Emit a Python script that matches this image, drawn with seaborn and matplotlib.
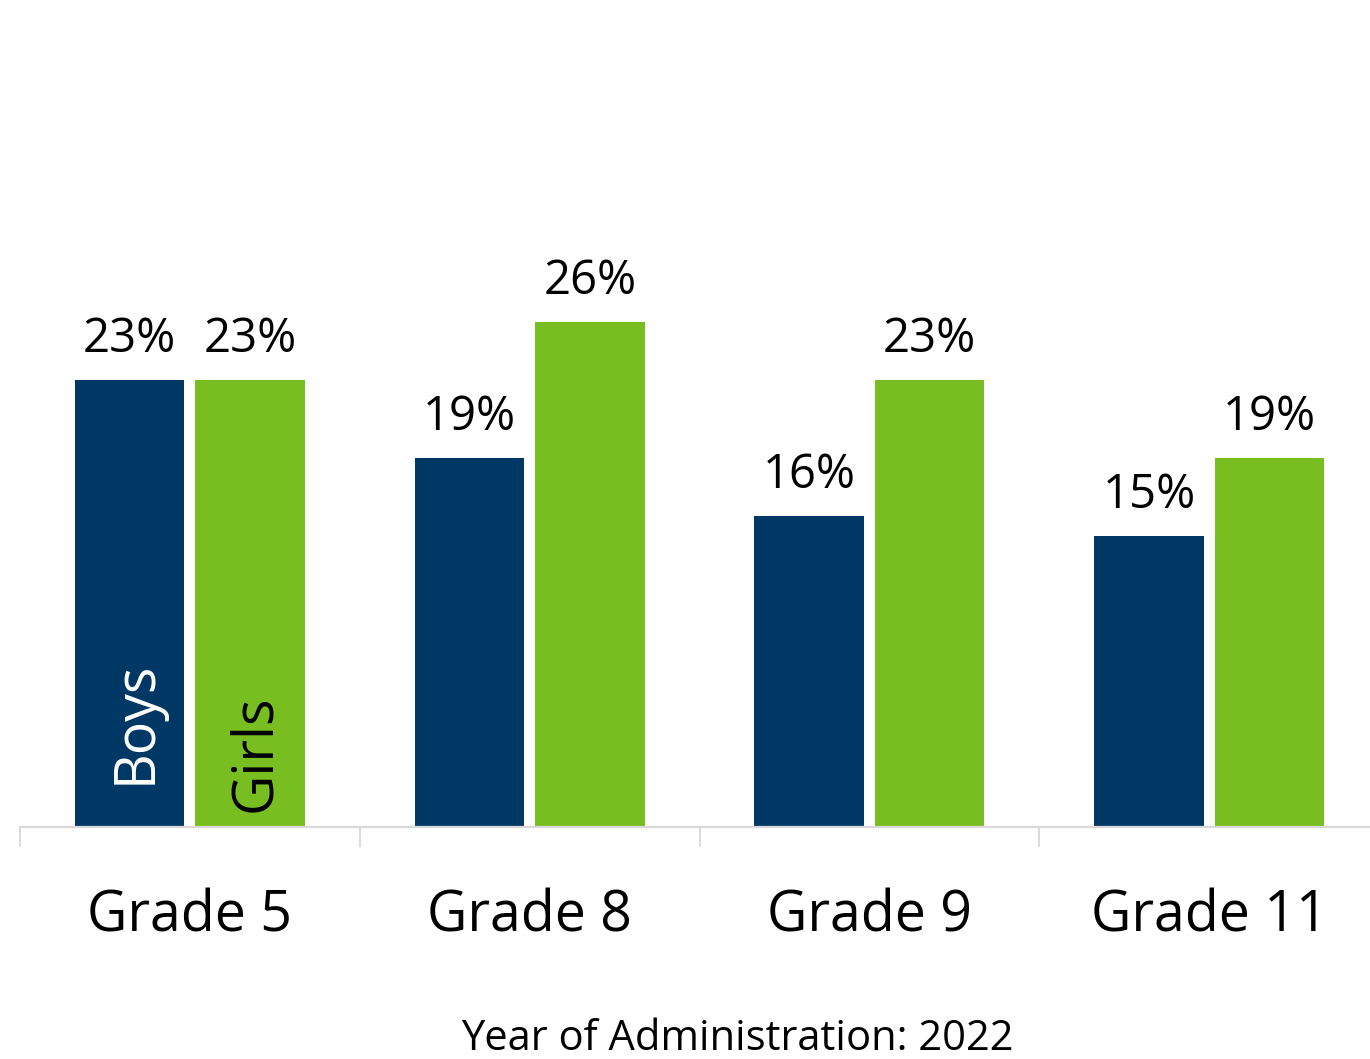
import matplotlib
matplotlib.use("Agg")
import matplotlib.pyplot as plt
import seaborn as sns
import pandas as pd

grades = ["Grade 5", "Grade 8", "Grade 9", "Grade 11"]
boys = [23, 19, 16, 15]
girls = [23, 26, 23, 19]
series = ["Boys", "Girls"]
colors = ["#003865", "#78be20"]
footer = "Year of Administration: 2022"

sns.set_theme(style="white")
plt.rcParams["font.family"] = ["Open Sans", "DejaVu Sans"]

df = pd.DataFrame({
    "grade": grades * 2,
    "value": boys + girls,
    "sex": [series[0]] * len(grades) + [series[1]] * len(grades),
})

W, H = 1370, 1059
fig = plt.figure(figsize=(W / 100, H / 100), dpi=100)
ax = fig.add_axes([20 / W, (H - 827) / H, 1359 / W, 827 / H])

sns.barplot(data=df, x="grade", y="value", hue="sex", order=grades,
            hue_order=series, palette=colors, width=0.709, gap=0.09,
            saturation=1, legend=False, ax=ax, linewidth=0)

ax.set_xlim(-0.5, len(grades) - 0.5)
ax.set_ylim(0, 42.56)
ax.set_xlabel("")
ax.set_ylabel("")
ax.set_yticks([])
for s in ["top", "right", "left"]:
    ax.spines[s].set_visible(False)
ax.spines["bottom"].set_color("#d9d9d9")
ax.spines["bottom"].set_linewidth(1.6)

ax.tick_params(axis="x", which="major", length=0, pad=44, labelsize=40,
               labelcolor="black")
ax.set_xticks([i - 0.5 for i in range(len(grades) + 1)], minor=True)
ax.tick_params(axis="x", which="minor", length=14.4, width=1.4,
               color="#d9d9d9", bottom=True)

# value labels
for cont in ax.containers:
    ax.bar_label(cont, labels=[f"{int(v.get_height())}%" for v in cont],
                 padding=12, fontsize=34, color="black")

# series labels inside first group
b0 = ax.containers[0][0]
g0 = ax.containers[1][0]
ax.annotate(series[0], xy=(b0.get_x() + b0.get_width() / 2, 0),
            xytext=(5, 31), textcoords="offset points", rotation=90,
            ha="center", va="bottom", color="white", fontsize=40)
ax.annotate(series[1], xy=(g0.get_x() + g0.get_width() / 2, 0),
            xytext=(4, 11), textcoords="offset points", rotation=90,
            ha="center", va="bottom", color="black", fontsize=40)

fig.text(737 / W, 9 / H, footer, ha="center", va="baseline", fontsize=30,
         color="black")

fig.savefig("out.png", dpi=100)
